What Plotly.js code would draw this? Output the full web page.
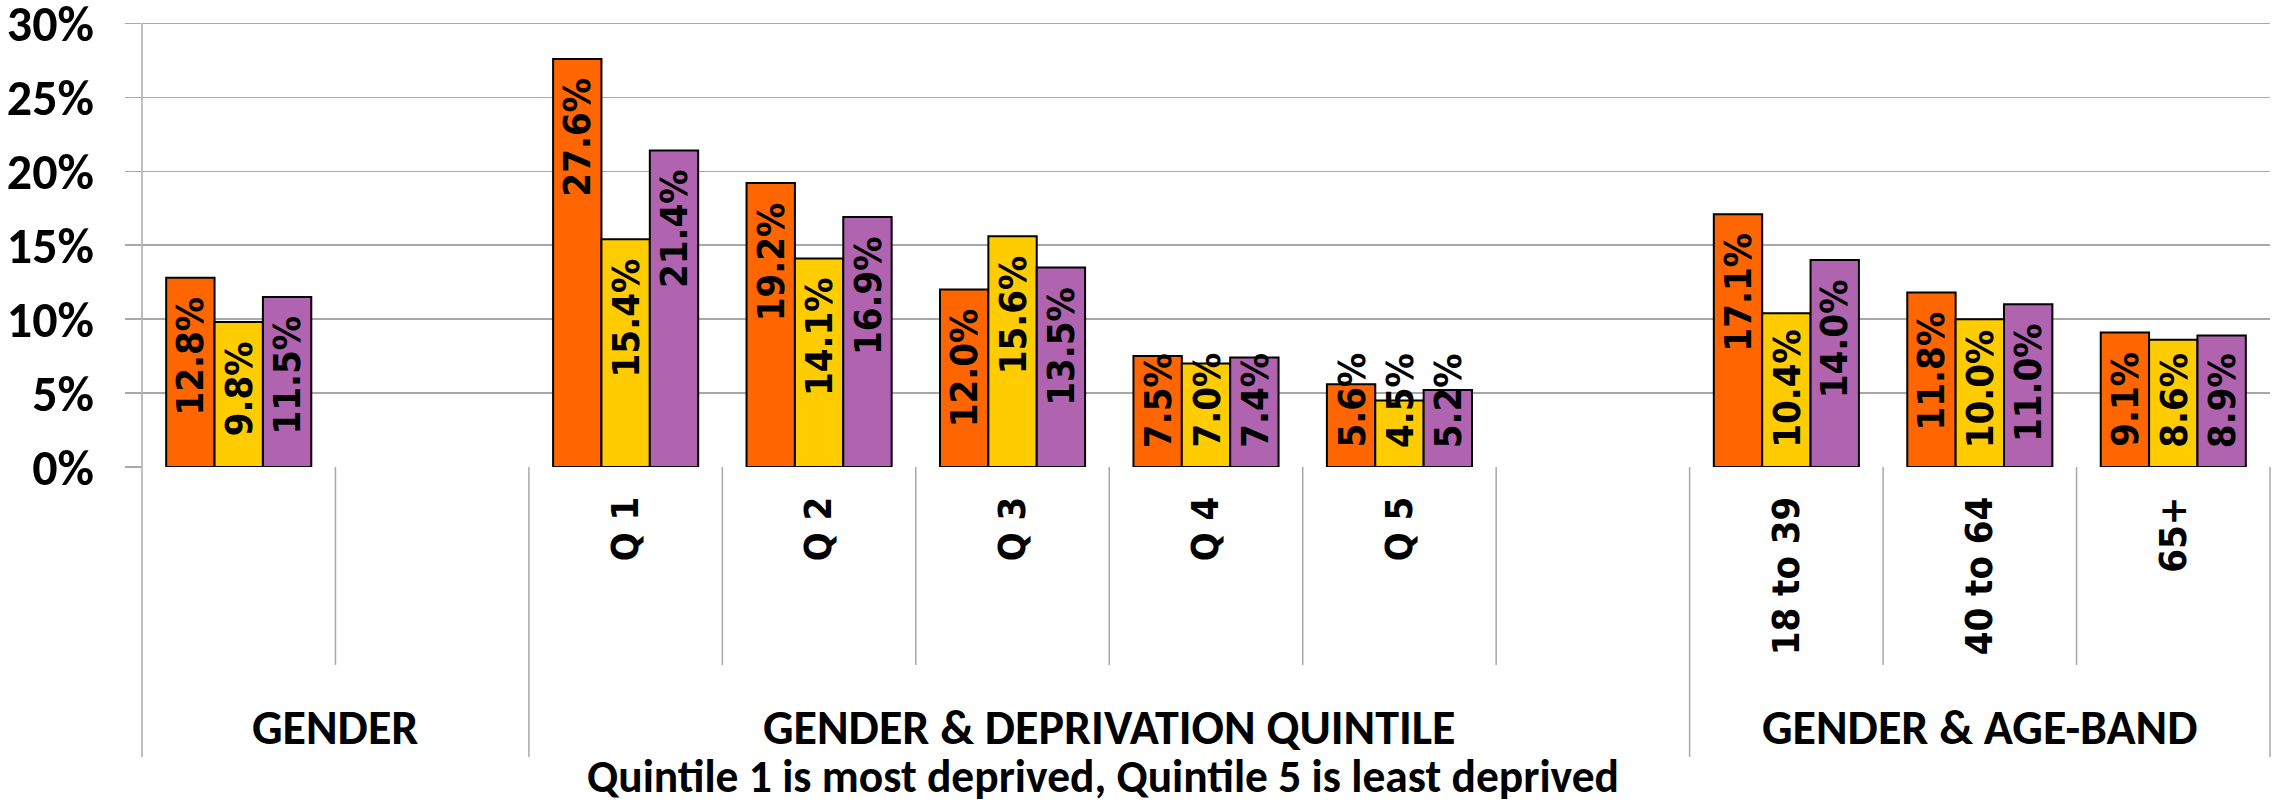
<!DOCTYPE html>
<html><head><meta charset="utf-8">
<script src="https://cdn.plot.ly/plotly-3.0.1.min.js"></script>
<style>html,body{margin:0;padding:0;background:#fff;} #chart{width:2277px;height:802px;}</style>
</head><body><div id="chart"></div>
<script>
// ---- data ----
const categories = ["", "", "Q 1", "Q 2", "Q 3", "Q 4", "Q 5", "", "18 to 39", "40 to 64", "65+"];
const seriesNames = ["Series 1", "Series 2", "Series 3"];
const orangeValues = [12.8, null, 27.6, 19.2, 12.0, 7.5, 5.6, null, 17.1, 11.8, 9.1];
const yellowValues = [9.8, null, 15.4, 14.1, 15.6, 7.0, 4.5, null, 10.4, 10.0, 8.6];
const purpleValues = [11.5, null, 21.4, 16.9, 13.5, 7.4, 5.2, null, 14.0, 11.0, 8.9];
const groupNames = ["GENDER", "GENDER & DEPRIVATION QUINTILE", "GENDER & AGE-BAND"];
const groupStart = [0, 2, 8];
const groupEnd = [1, 7, 10];
const groupNote = "Quintile 1 is most deprived, Quintile 5 is least deprived";
const yTicks = [0, 5, 10, 15, 20, 25, 30];
const yTickLabels = ["0%", "5%", "10%", "15%", "20%", "25%", "30%"];

// ---- style ----
const colors = ["#FF6600", "#FFCC00", "#B063AF"];
const gridCol = "#a8a8a8";
const calib = "Carlito, Lato, 'Open Sans', sans-serif";
const condensed = "'DejaVu Sans Condensed', 'DejaVu Sans', sans-serif";
const W = 2277, H = 802;
const M = {l: 142, r: 7, t: 16, b: 335};
const plotH = H - M.t - M.b;
const yMax = 30.5;
const pxPerUnit = plotH / yMax;
const N = categories.length;
const idx = categories.map((c, i) => i);
const allSeries = [orangeValues, yellowValues, purpleValues];
const barW = 0.25; // category fraction per bar (bargap 0.25, 3 bars)

const traces = allSeries.map((vals, s) => ({
  type: "bar", name: seriesNames[s], x: idx, y: vals,
  marker: {color: colors[s], line: {color: "#000", width: 2}},
  hoverinfo: "y"
}));

const annotations = [];
const labelFont = {family: condensed, size: 38, weight: "bold", color: "#000"};
allSeries.forEach((vals, s) => {
  vals.forEach((v, i) => {
    if (v === null) return;
    const txt = v.toFixed(1) + "%";
    const barPx = v * pxPerUnit;
    const textPx = txt.length * 23.4;
    const topAnchored = (barPx - 20 - textPx) >= 20;
    annotations.push({
      xref: "x", yref: "y", x: i + (s - 1) * barW, y: topAnchored ? v : 0,
      text: txt, textangle: -90, showarrow: false,
      xanchor: "center", yanchor: topAnchored ? "top" : "bottom",
      yshift: topAnchored ? -19 : 19, borderpad: 0, borderwidth: 0,
      font: labelFont
    });
  });
});

// group labels
const yPaper = (py) => (M.t + plotH - py) / plotH; // py = pixel from top
groupNames.forEach((g, k) => {
  const cx = ((groupStart[k] + groupEnd[k]) / 2 + 0.5) / N;
  annotations.push({
    xref: "paper", yref: "paper", x: cx, y: yPaper(727), text: g,
    showarrow: false, xanchor: "center", yanchor: "middle", borderpad: 0,
    font: {family: calib, size: 48, weight: "bold", color: "#000"}
  });
});
{
  const k = 1;
  const cx = ((groupStart[k] + groupEnd[k]) / 2 + 0.5) / N;
  annotations.push({
    xref: "paper", yref: "paper", x: cx, y: yPaper(776), xshift: -6, text: groupNote,
    showarrow: false, xanchor: "center", yanchor: "middle", borderpad: 0,
    font: {family: calib, size: 45.5, weight: "bold", color: "#000"}
  });
}

// dividers and y axis line
const shapes = [];
const shortEnd = yPaper(665), longEnd = yPaper(757);
const groupBounds = [];
groupStart.forEach(s => groupBounds.push(s - 0.5));
groupEnd.forEach(e => groupBounds.push(e + 0.5));
for (let b = -0.5; b <= N - 0.5 + 1e-9; b += 1) {
  const isGroup = groupBounds.some(g => Math.abs(g - b) < 1e-6);
  shapes.push({
    type: "line", xref: "paper", yref: "paper",
    x0: (b + 0.5) / N, x1: (b + 0.5) / N, y0: 0, y1: isGroup ? longEnd : shortEnd,
    line: {color: gridCol, width: 1.5}, layer: "below"
  });
}
shapes.push({
  type: "line", xref: "paper", yref: "y", x0: 0, x1: 0,
  y0: yTicks[0], y1: yTicks[yTicks.length - 1],
  line: {color: gridCol, width: 1.5}, layer: "below"
});

const layout = {
  width: W, height: H, margin: M, showlegend: false,
  paper_bgcolor: "#fff", plot_bgcolor: "#fff",
  barmode: "group", bargap: 0.25, bargroupgap: 0,
  xaxis: {
    range: [-0.5, N - 0.5], tickmode: "array", tickvals: idx, ticktext: categories,
    tickangle: -90, ticks: "", showgrid: false, zeroline: false, showline: false,
    automargin: false, ticklabelstandoff: 21,
    tickfont: {family: condensed, size: 38, weight: "bold", color: "#000"}
  },
  yaxis: {
    range: [0, yMax], tickmode: "array", tickvals: yTicks, ticktext: yTickLabels,
    ticks: "outside", ticklen: 16, tickwidth: 1.5, tickcolor: gridCol,
    showline: false, ticklabeloverflow: "allow",
    showgrid: true, gridcolor: gridCol, gridwidth: 1.5, zeroline: false,
    automargin: false, ticklabelstandoff: 21,
    tickfont: {family: calib, size: 50, weight: "bold", color: "#000"}
  },
  annotations: annotations, shapes: shapes
};

Plotly.newPlot("chart", traces, layout, {staticPlot: true});
</script>
</body></html>
